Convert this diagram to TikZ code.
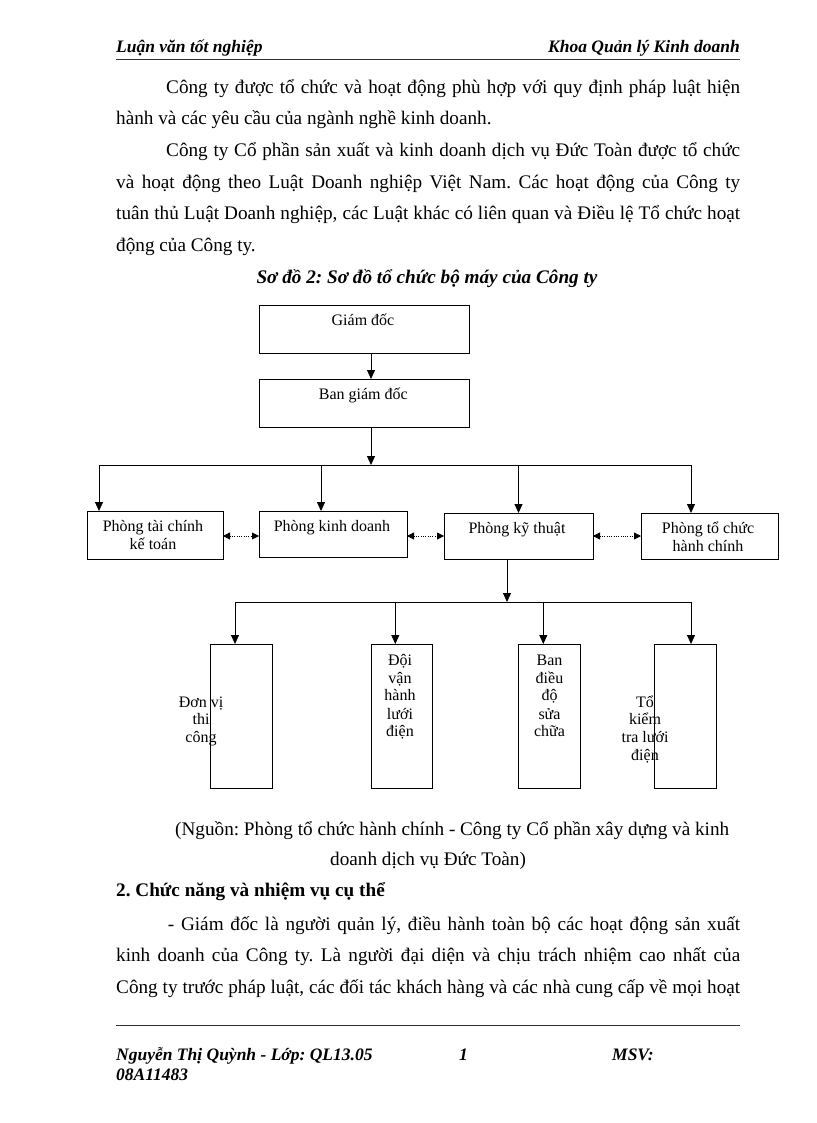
\documentclass[tikz,border=0pt]{standalone}
\usepackage{fontspec}
\setmainfont{Liberation Serif}
\usetikzlibrary{arrows.meta}
\frenchspacing
\begin{document}
\begin{tikzpicture}[x=1pt,y=-1pt,
  box/.style={draw, line width=0.8pt, inner sep=0pt, outer sep=0pt},
  lbl/.style={inner sep=0pt, anchor=base, font=\fontsize{16}{18}\selectfont},
  body/.style={inner sep=0pt, anchor=base west, font=\fontsize{19.2}{22}\selectfont},
  hdr/.style={inner sep=0pt, anchor=base west, font=\fontsize{17.5}{20}\selectfont\bfseries\itshape},
  arr/.style={line width=0.8pt, -{Triangle[length=9pt,width=8pt]}},
  darr/.style={line width=0.8pt, dash pattern=on 1pt off 1.3pt, {Triangle[length=7pt,width=7pt]}-{Triangle[length=7pt,width=7pt]}},
  ln/.style={line width=0.8pt},
  rule/.style={line width=1pt, black!80}]
\fill[white] (0,0) rectangle (816,1123);
\useasboundingbox (0,0) rectangle (816,1123);

% header
\node[hdr] (h1) at (116,53) {Luận văn tốt nghiệp};
\node[hdr, anchor=base east] (h2) at (740,53) {Khoa Quản lý Kinh doanh};
\draw[rule] (116,60) -- (740,60);

% body text
\node[body] (a1) at (166,93.3) {\makebox[574pt][s]{Công ty được tổ chức và hoạt động phù hợp với quy định pháp luật hiện}};
\node[body] (a2) at (116,125) {hành và các yêu cầu của ngành nghề kinh doanh.};
\node[body] (b1) at (166,156.7) {\makebox[574pt][s]{Công ty Cổ phần sản xuất và kinh doanh dịch vụ Đức Toàn được tổ chức}};
\node[body] (b2) at (116,188.3) {\makebox[624pt][s]{và hoạt động theo Luật Doanh nghiệp Việt Nam. Các hoạt động của Công ty}};
\node[body] (b3) at (116,220) {\makebox[624pt][s]{tuân thủ Luật Doanh nghiệp, các Luật khác có liên quan và Điều lệ Tổ chức hoạt}};
\node[body] (b4) at (116,251.7) {động của Công ty.};
\node[body, anchor=base, font=\fontsize{19.2}{22}\selectfont\bfseries\itshape] (cap) at (427,283.3) {Sơ đồ 2: Sơ đồ tổ chức bộ máy của Công ty};

% boxes
\node[box, minimum width=210pt, minimum height=48pt] (gd) at (364,329) {};
\node[box, minimum width=210pt, minimum height=48pt] (bgd) at (364,403) {};
\node[box, minimum width=136pt, minimum height=48pt] (p1) at (155,535) {};
\node[box, minimum width=148pt, minimum height=46pt] (p2) at (333,534) {};
\node[box, minimum width=149pt, minimum height=46pt] (p3) at (518.5,536) {};
\node[box, minimum width=137pt, minimum height=46pt] (p4) at (709.5,536) {};
\node[box, minimum width=62pt, minimum height=144pt] (u1) at (241,716) {};
\node[box, minimum width=61pt, minimum height=144pt] (u2) at (401.5,716) {};
\node[box, minimum width=62pt, minimum height=144pt] (u3) at (549,716) {};
\node[box, minimum width=62pt, minimum height=144pt] (u4) at (685,716) {};

% box labels
\node[lbl] (tgd) at (363,325) {Giám đốc};
\node[lbl] (tbgd) at (363.3,399) {Ban giám đốc};
\node[lbl] (tp1a) at (153,531) {Phòng tài chính};
\node[lbl] (tp1b) at (153,549) {kế toán};
\node[lbl] (tp2) at (332,531) {Phòng kinh doanh};
\node[lbl] (tp3) at (517,533.7) {Phòng kỹ thuật};
\node[lbl] (tp4a) at (708,533.7) {Phòng tổ chức};
\node[lbl] (tp4b) at (708,551) {hành chính};

\node[lbl] (tu1a) at (201,707) {Đơn vị};
\node[lbl] (tu1b) at (201,724.5) {thi};
\node[lbl] (tu1c) at (201,742) {công};

\node[lbl] (tu2a) at (400,665.7) {Đội};
\node[lbl] (tu2b) at (400,683.3) {vận};
\node[lbl] (tu2c) at (400,700.7) {hành};
\node[lbl] (tu2d) at (400,719) {lưới};
\node[lbl] (tu2e) at (400,736.7) {điện};

\node[lbl] (tu3a) at (549.5,665.7) {Ban};
\node[lbl] (tu3b) at (549.5,683.3) {điều};
\node[lbl] (tu3c) at (549.5,700.7) {độ};
\node[lbl] (tu3d) at (549.5,719) {sửa};
\node[lbl] (tu3e) at (549.5,736.7) {chữa};

\node[lbl] (tu4a) at (645,707) {Tổ};
\node[lbl] (tu4b) at (645,724.5) {kiểm};
\node[lbl] (tu4c) at (645,742) {tra lưới};
\node[lbl] (tu4d) at (645,760) {điện};

% connector coordinates
\coordinate (ax) at (371,465);
\coordinate (busL) at (99,465);
\coordinate (busR) at (691,465);
\coordinate (k2) at (321,465);
\coordinate (k3) at (518.5,465);
\coordinate (dy) at (0,536);
\coordinate (bx) at (507,602);
\coordinate (c1) at (235,602);
\coordinate (c2) at (395.3,602);
\coordinate (c3) at (543.3,602);
\coordinate (c4) at (691,602);

% connectors
\draw[arr] (gd.south -| ax) -- (bgd.north -| ax);
\draw[arr] (bgd.south -| ax) -- (ax);
\draw[ln] (busL) -- (busR);
\draw[arr] (busL) -- (busL |- p1.north);
\draw[arr] (k2) -- (k2 |- p2.north);
\draw[arr] (k3) -- (p3.north);
\draw[arr] (busR) -- (busR |- p4.north);

\draw[darr] (p1.east |- dy) -- (p2.west |- dy);
\draw[darr] (p2.east |- dy) -- (p3.west |- dy);
\draw[darr] (p3.east |- dy) -- (p4.west |- dy);

\draw[arr] (p3.south -| bx) -- (bx);
\draw[ln] (c1) -- (c4);
\draw[arr] (c1) -- (c1 |- u1.north);
\draw[arr] (c2) -- (c2 |- u2.north);
\draw[arr] (c3) -- (c3 |- u3.north);
\draw[arr] (c4) -- (c4 |- u4.north);

% source and following text
\node[body] (s1) at (175,835) {\makebox[554pt][s]{(Nguồn: Phòng tổ chức hành chính - Công ty Cổ phần xây dựng và kinh}};
\node[body] (s2) at (330,865) {doanh dịch vụ Đức Toàn)};
\node[body, font=\fontsize{19.2}{22}\selectfont\bfseries] (sec) at (116,896.7) {2. Chức năng và nhiệm vụ cụ thể};
\node[body] (d1) at (167.7,930) {\makebox[572.3pt][s]{- Giám đốc là người quản lý, điều hành toàn bộ các hoạt động sản xuất}};
\node[body] (d2) at (116,961.7) {\makebox[624pt][s]{kinh doanh của Công ty. Là người đại diện và chịu trách nhiệm cao nhất của}};
\node[body] (d3) at (116,993.3) {\makebox[624pt][s]{Công ty trước pháp luật, các đối tác khách hàng và các nhà cung cấp về mọi hoạt}};

% footer
\draw[rule] (116,1025) -- (740,1025);
\node[hdr] (f1) at (116,1060) {Nguyễn Thị Quỳnh - Lớp: QL13.05};
\node[hdr] (f2) at (459,1060) {1};
\node[hdr] (f3) at (612,1060) {MSV:};
\node[hdr] (f4) at (116,1080) {08A11483};
\end{tikzpicture}
\end{document}
